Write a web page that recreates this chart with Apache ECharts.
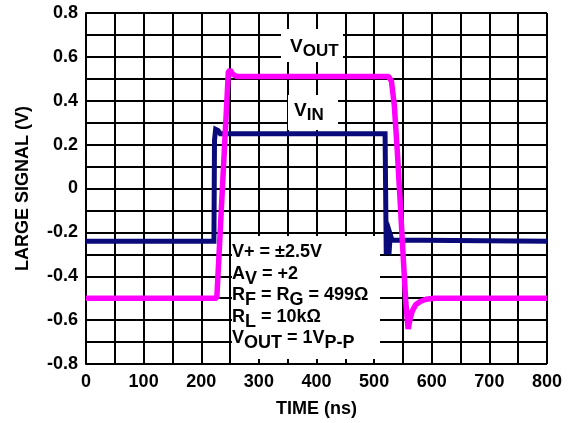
<!DOCTYPE html>
<html>
<head>
<meta charset="utf-8">
<script src="https://cdn.jsdelivr.net/npm/echarts@6/dist/echarts.min.js"></script>
<style>
html, body { margin: 0; padding: 0; background: #fff; }
#chart { width: 571px; height: 423px; }
</style>
</head>
<body>
<div id="chart"></div>
<script>
// input step, time in ns / volts
var vinTime = [0, 222, 223, 225, 229, 233, 519, 521, 526, 528, 531, 800];
var vinValue = [-0.24, -0.24, 0.22, 0.27, 0.265, 0.25, 0.25, -0.29, -0.29, -0.21, -0.235, -0.24];

// output (gain of 2)
var voutTime = [0, 227, 247, 250, 255, 262, 280, 525, 530, 535, 540, 545, 550, 555, 559, 562, 566, 572, 580, 590, 605, 800];
var voutValue = [-0.5, -0.5, 0.53, 0.54, 0.52, 0.51, 0.51, 0.51, 0.49, 0.38, 0.18, -0.05, -0.29, -0.52, -0.64, -0.6, -0.56, -0.53, -0.515, -0.505, -0.5, -0.5];

var xTicks = [0, 100, 200, 300, 400, 500, 600, 700, 800];
var yTicks = [-0.8, -0.6, -0.4, -0.2, 0, 0.2, 0.4, 0.6, 0.8];

// test conditions, [text, subscript] pieces per row
var condRows = [
	[['V+ = \u00b12.5V', '']],
	[['A', 'V'], [' = +2', '']],
	[['R', 'F'], [' = R', 'G'], [' = 499\u03a9', '']],
	[['R', 'L'], [' = 10k\u03a9', '']],
	[['V', 'OUT'], [' = 1V', 'P-P']]
];

var FONT = '"Liberation Sans", Arial, sans-serif';

function pairs(t, v) {
	var out = [];
	for (var i = 0; i < t.length; i++) {
		out.push([t[i], v[i]]);
	}
	return out;
}

function richRow(parts) {
	var s = '';
	for (var i = 0; i < parts.length; i++) {
		s += '{a|' + parts[i][0] + '}';
		if (parts[i][1]) {
			s += '{s|' + parts[i][1] + '}';
		}
	}
	return s;
}

// subscripts sit at the bottom of a taller line box, so they drop by "drop" px
function subStyle(text, size, subSize, drop) {
	return {
		text: text,
		fontFamily: FONT, fontWeight: 'bold', fontSize: size, fill: '#000',
		backgroundColor: 'rgba(255,255,255,0)', padding: [0, 0, 0, 0],
		rich: {
			a: { fontFamily: FONT, fontWeight: 'bold', fontSize: size, lineHeight: size + drop * 2, verticalAlign: 'middle', fill: '#000' },
			s: { fontFamily: FONT, fontWeight: 'bold', fontSize: subSize, lineHeight: size, verticalAlign: 'bottom', fill: '#000' }
		}
	};
}

var gridLine = { show: true, lineStyle: { color: '#000', width: 2 } };

var graphics = [
	{ type: 'rect', shape: { x: 281, y: 29, width: 62, height: 33 }, style: { fill: '#fff' }, z: 9 },
	{ type: 'rect', shape: { x: 288, y: 95, width: 50, height: 35 }, style: { fill: '#fff' }, z: 9 },
	{ type: 'rect', shape: { x: 232, y: 236, width: 148, height: 123 }, style: { fill: '#fff' }, z: 9 },
	{ type: 'text', left: 290, top: 33, z: 10, style: subStyle('{a|V}{s|OUT}', 19, 17, 4) },
	{ type: 'text', left: 294, top: 97, z: 10, style: subStyle('{a|V}{s|IN}', 19, 17, 4) }
];
for (var r = 0; r < condRows.length; r++) {
	graphics.push({
		type: 'text', left: 232, top: 238.5 + r * 21.5, z: 10,
		style: subStyle(richRow(condRows[r]), 18, 18, 5)
	});
}

var chart = echarts.init(document.getElementById('chart'));
var option = {
	backgroundColor: '#fff',
	animation: false,
	grid: { left: 86, right: 24, top: 13, bottom: 58 },
	xAxis: {
		type: 'value',
		min: xTicks[0],
		max: xTicks[xTicks.length - 1],
		interval: 100,
		name: 'TIME (ns)',
		nameLocation: 'middle',
		nameGap: 36,
		nameTextStyle: { fontFamily: FONT, fontWeight: 'bold', fontSize: 18, color: '#000' },
		axisLine: { lineStyle: { color: '#000', width: 2 } },
		axisTick: { show: false },
		axisLabel: { fontFamily: FONT, fontWeight: 'bold', fontSize: 18, color: '#000', margin: 9 },
		splitLine: gridLine,
		minorTick: { show: false, splitNumber: 2 },
		minorSplitLine: gridLine
	},
	yAxis: {
		type: 'value',
		min: yTicks[0],
		max: yTicks[yTicks.length - 1],
		interval: 0.2,
		name: 'LARGE SIGNAL (V)',
		nameLocation: 'middle',
		nameGap: 54,
		nameRotate: 90,
		nameTextStyle: { fontFamily: FONT, fontWeight: 'bold', fontSize: 18, color: '#000' },
		axisLine: { show: true, lineStyle: { color: '#000', width: 2 } },
		axisTick: { show: false },
		axisLabel: {
			fontFamily: FONT, fontWeight: 'bold', fontSize: 18, color: '#000', margin: 8,
			formatter: function (v) { return Math.abs(v) < 1e-9 ? '0' : v.toFixed(1); }
		},
		splitLine: gridLine,
		minorTick: { show: false, splitNumber: 2 },
		minorSplitLine: gridLine
	},
	series: [
		{
			name: 'VIN',
			type: 'line',
			data: pairs(vinTime, vinValue),
			showSymbol: false,
			lineStyle: { color: '#0a0a7a', width: 5, join: 'miter' },
			z: 3
		},
		{
			name: 'VOUT',
			type: 'line',
			data: pairs(voutTime, voutValue),
			showSymbol: false,
			lineStyle: { color: '#ff00ff', width: 5.5 },
			z: 4
		}
	],
	graphic: graphics
};
chart.setOption(option);
</script>
</body>
</html>
